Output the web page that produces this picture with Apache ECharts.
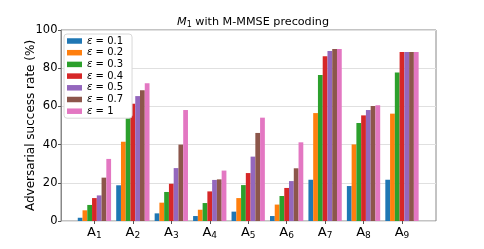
<!DOCTYPE html>
<html><head><meta charset="utf-8">
<script src="https://cdn.jsdelivr.net/npm/echarts@6/dist/echarts.min.js"></script>
<style>html,body{margin:0;padding:0;background:#fff}#c{width:484px;height:249px}</style>
</head><body><div id="c"></div>
<script>
const categories = ['1','2','3','4','5','6','7','8','9'];
const epsLabels = ['0.1','0.2','0.3','0.4','0.5','0.7','1'];
const s01 = [1.7, 18.7, 4.0, 2.6, 4.9, 2.6, 21.6, 18.3, 21.6];
const s02 = [5.6, 41.5, 9.6, 5.9, 12.0, 8.6, 56.5, 40.1, 56.2];
const s03 = [8.4, 55.7, 15.2, 9.4, 18.8, 13.1, 76.4, 51.3, 77.7];
const s04 = [12.0, 61.4, 19.5, 15.5, 25.1, 17.3, 86.2, 55.3, 88.5];
const s05 = [13.4, 65.4, 27.7, 21.5, 33.7, 20.9, 89.0, 58.1, 88.5];
const s07 = [22.7, 68.4, 40.0, 21.8, 46.1, 27.6, 90.0, 60.2, 88.5];
const s1  = [32.5, 72.1, 58.1, 26.4, 54.1, 41.2, 90.0, 60.6, 88.5];
const yTicks = [0, 20, 40, 60, 80, 100];
const seriesValues = [s01, s02, s03, s04, s05, s07, s1];
const colors = ['#1f77b4','#ff7f0e','#2ca02c','#d62728','#9467bd','#8c564b','#e377c2'];
const FONT = 'DejaVu Sans';
const chart = echarts.init(document.getElementById('c'));
const names = epsLabels.map(e => 'ε = ' + e);
chart.setOption({
  animation: false,
  textStyle: {fontFamily: FONT},
  title: {
    text: '{m|M}{s|1}{t| with M-MMSE precoding}',
    left: 248, top: 11, textAlign: 'center',
    textStyle: {fontWeight: 'normal', rich: {
      m: {fontFamily: FONT, fontSize: 11.2, fontStyle: 'italic', fontWeight: 'normal', color: '#000'},
      s: {fontFamily: FONT, fontSize: 8, fontWeight: 'normal', color: '#000', verticalAlign: 'bottom', padding: [5,0,0,0]},
      t: {fontFamily: FONT, fontSize: 11.2, fontWeight: 'normal', color: '#000'}
    }}
  },
  legend: {
    orient: 'vertical', left: 64, top: 34,
    itemWidth: 15, itemHeight: 5.5, itemGap: 1.7,
    icon: 'rect',
    backgroundColor: '#fff', borderColor: '#d8d8d8', borderWidth: 1, borderRadius: 3,
    padding: [2, 9, 2, 3],
    data: names,
    formatter: n => '{e|ε}{t|' + n.slice(1) + '}',
    textStyle: {fontSize: 10, color: '#000', lineHeight: 10, rich: {
      e: {fontFamily: FONT, fontSize: 10, fontStyle: 'italic', color: '#000', lineHeight: 10},
      t: {fontFamily: FONT, fontSize: 10, color: '#000', lineHeight: 10}
    }}
  },
  grid: [
    {left: 61, top: 30, width: 375, height: 191, show: true, borderColor: '#888', borderWidth: 1, backgroundColor: 'transparent'},
    {left: 75.2, top: 30, width: 346, height: 191}
  ],
  xAxis: [
    {gridIndex: 0, type: 'value', min: 0, max: 1, show: false},
    {gridIndex: 1, type: 'category', data: categories,
     axisLine: {show: false},
     axisTick: {show: true, alignWithLabel: true, length: 3, lineStyle: {color: '#555'}},
     axisLabel: {interval: 0, margin: 4, formatter: v => '{a|A}{s|' + v + '}', rich: {
       a: {fontFamily: FONT, fontSize: 13, color: '#000'},
       s: {fontFamily: FONT, fontSize: 9, color: '#000', verticalAlign: 'bottom', padding: [6,0,0,0]}
     }}}
  ],
  yAxis: [
    {gridIndex: 0, type: 'value', min: 0, max: 100, interval: 20,
     name: 'Adversarial success rate (%)', nameLocation: 'middle', nameGap: 24,
     nameMoveOverlap: false,
     nameTextStyle: {fontFamily: FONT, fontSize: 12, color: '#000'},
     axisLine: {show: true, lineStyle: {color: '#888'}},
     axisTick: {show: true, length: 3, lineStyle: {color: '#555'}},
     axisLabel: {fontFamily: FONT, fontSize: 11.5, color: '#000', margin: 3.5,
       formatter: v => yTicks.includes(v) ? String(v) : ''},
     splitLine: {show: true, lineStyle: {color: '#e0e0e0', width: 1}}},
    {gridIndex: 1, type: 'value', min: 0, max: 100, show: false, splitLine: {show: false}}
  ],
  series: seriesValues.map((vals, i) => ({
    name: names[i], type: 'bar', xAxisIndex: 1, yAxisIndex: 1,
    data: vals, barWidth: 4.76, barGap: '0%',
    itemStyle: {color: colors[i]}
  }))
});
</script></body></html>
